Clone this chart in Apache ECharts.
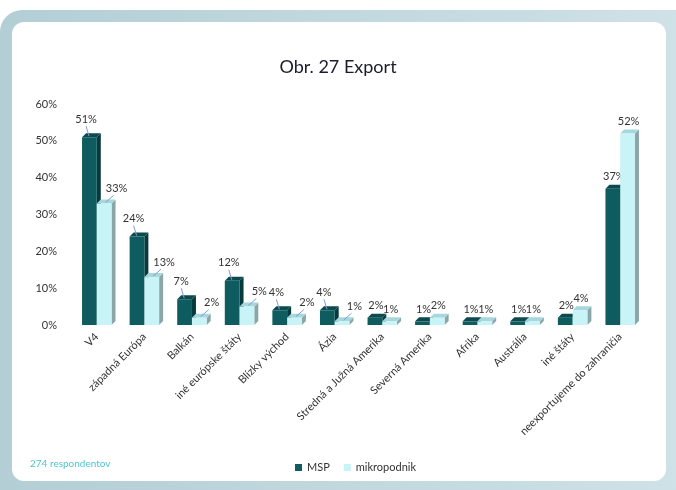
<!DOCTYPE html>
<html>
<head>
<meta charset="utf-8">
<script src="https://cdn.jsdelivr.net/npm/echarts@6/dist/echarts.min.js"></script>
<style>
  html, body { margin: 0; padding: 0; background: #fff; }
  #chart { width: 676px; height: 490px; }
</style>
</head>
<body>
<div id="chart"></div>
<script>
const categories = ['V4', 'západná Európa', 'Balkán', 'iné európske štáty', 'Blízky východ', 'Ázia',
  'Stredná a Južná Amerika', 'Severná Amerika', 'Afrika', 'Austrália', 'iné štáty', 'neexportujeme do zahraničia']
const mspValues = [51, 24, 7, 12, 4, 4, 2, 1, 1, 1, 2, 37]
const mikroValues = [33, 13, 2, 5, 2, 1, 1, 2, 1, 1, 4, 52]
const yTicks = [0, 10, 20, 30, 40, 50, 60]

const FONT = 'Lato, "Open Sans", sans-serif'
const DX = 4
const DY = 4

// pseudo 3D bar: front face, top face, right side, plus value label
function makeRender(side, colors) {
  return function (params, api) {
    const idx = api.value(0)
    const val = api.value(1)
    const base = api.coord([idx, 0])
    const top = api.coord([idx, val])
    const bw = api.size([1, 0])[0] * 0.31
    const x0 = side < 0 ? base[0] - bw : base[0]
    const x1 = x0 + bw
    const yb = base[1]
    const yt = top[1]
    const children = [
      { type: 'polygon', shape: { points: [[x1, yt], [x1 + DX, yt - DY], [x1 + DX, yb - DY], [x1, yb]] }, style: { fill: colors.side } },
      { type: 'polygon', shape: { points: [[x0, yt], [x0 + DX, yt - DY], [x1 + DX, yt - DY], [x1, yt]] }, style: { fill: colors.top } },
      { type: 'rect', shape: { x: x0, y: yt, width: bw, height: yb - yt }, style: { fill: colors.front } },
    ]
    let lx, ly
    if (idx < 6) {
      if (side < 0) {
        lx = x0 + 4; ly = yt - 18
        children.push({ type: 'line', shape: { x1: x0 + 4, y1: yt - 11, x2: x0 + 7, y2: yt - 1 }, style: { stroke: '#7f9be0', lineWidth: 1 } })
      } else {
        lx = x1 + 5; ly = yt - 15
        children.push({ type: 'line', shape: { x1: x1 - 6, y1: yt - 1, x2: x1 + 2, y2: yt - 8 }, style: { stroke: '#7f9be0', lineWidth: 1 } })
      }
    } else {
      lx = (x0 + x1) / 2 + 1
      ly = yt - 12
    }
    children.push({
      type: 'text',
      style: { x: lx, y: ly, text: val + '%', fill: '#333', font: '11px ' + FONT, align: 'center', verticalAlign: 'middle' },
    })
    return { type: 'group', children }
  }
}

const chart = echarts.init(document.getElementById('chart'))
chart.setOption({
  backgroundColor: '#fff',
  graphic: [
    {
      type: 'rect', z: -10, silent: true,
      shape: { x: 0, y: 10, width: 700, height: 500, r: 22 },
      style: {
        fill: new echarts.graphic.LinearGradient(0, 0, 1, 0, [
          { offset: 0, color: '#b3ced5' },
          { offset: 1, color: '#cfe2e7' },
        ]),
      },
    },
    {
      type: 'rect', z: -9, silent: true,
      shape: { x: 12, y: 22, width: 654, height: 459, r: 12 },
      style: { fill: '#fff' },
    },
    {
      type: 'text', left: 30, top: 459,
      style: { text: '274 respondentov', fill: '#4fc6cf', font: '10px ' + FONT },
    },
  ],
  title: {
    text: 'Obr. 27 Export',
    left: 'center',
    top: 53,
    textStyle: { fontFamily: FONT, fontSize: 18, fontWeight: 'normal', color: '#1c1c2c' },
  },
  legend: {
    left: 290,
    top: 457,
    itemWidth: 7,
    itemHeight: 7,
    itemGap: 14,
    icon: 'rect',
    textStyle: { fontFamily: FONT, fontSize: 11, color: '#333' },
    data: ['MSP', 'mikropodnik'],
  },
  grid: { left: 73, right: 32, top: 104, bottom: 165 },
  xAxis: {
    type: 'category',
    data: categories,
    axisLine: { show: false },
    axisTick: { show: false },
    axisLabel: { rotate: 45, interval: 0, margin: 10, fontFamily: FONT, fontSize: 11, color: '#333' },
  },
  yAxis: {
    type: 'value',
    min: yTicks[0],
    max: yTicks[yTicks.length - 1],
    interval: 10,
    splitLine: { show: false },
    axisLine: { show: false },
    axisTick: { show: false },
    axisLabel: { formatter: '{value}%', margin: 16, fontFamily: FONT, fontSize: 11, color: '#333' },
  },
  series: [
    {
      name: 'MSP',
      type: 'custom',
      itemStyle: { color: '#0e5c5f' },
      encode: { x: 0, y: 1 },
      renderItem: makeRender(-1, { front: '#0e5c5f', top: '#0b4a4d', side: '#073a3c' }),
      data: mspValues.map((v, i) => [i, v]),
    },
    {
      name: 'mikropodnik',
      type: 'custom',
      itemStyle: { color: '#c8f3f7' },
      encode: { x: 0, y: 1 },
      renderItem: makeRender(1, { front: '#c8f3f7', top: '#a6d7dc', side: '#8ba6a9' }),
      data: mikroValues.map((v, i) => [i, v]),
    },
  ],
})
</script>
</body>
</html>
